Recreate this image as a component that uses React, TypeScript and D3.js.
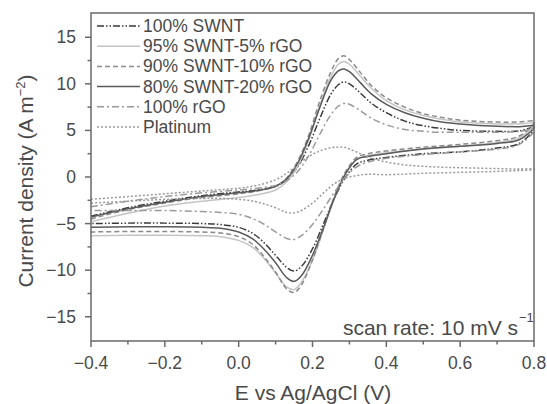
import React from "react";
import * as d3 from "d3";

const W = 547;
const H = 404;

const potentialFwd = [-0.4, -0.3, -0.2, -0.1, 0.0, 0.05, 0.1, 0.13, 0.16, 0.19, 0.22, 0.25, 0.27, 0.285, 0.3, 0.33, 0.36, 0.4, 0.45, 0.5, 0.55, 0.6, 0.7, 0.76, 0.8];
const potentialRev = [0.8, 0.76, 0.7, 0.6, 0.5, 0.4, 0.35, 0.32, 0.29, 0.26, 0.23, 0.2, 0.17, 0.15, 0.13, 0.1, 0.07, 0.04, 0.0, -0.05, -0.1, -0.2, -0.3, -0.4];

const swnt100Fwd = [-4.2, -3.3, -2.6, -2.0, -1.6, -1.4, -1.0, -0.3, 1.1, 3.4, 6.3, 8.9, 9.9, 10.2, 10.0, 9.0, 7.9, 6.9, 6.0, 5.5, 5.2, 5.0, 4.9, 4.95, 5.3];
const swnt100Rev = [5.1, 3.6, 3.1, 2.7, 2.5, 2.1, 1.8, 1.4, 0.0, -2.2, -5.0, -7.7, -9.6, -10.1, -9.7, -8.4, -7.1, -6.1, -5.4, -5.1, -5.0, -4.95, -4.95, -5.0];

const swnt95Fwd = [-4.8, -3.9, -3.1, -2.6, -2.2, -1.9, -1.4, -0.5, 1.2, 4.0, 7.7, 10.8, 12.1, 12.4, 12.1, 10.8, 9.5, 8.2, 7.2, 6.6, 6.2, 5.9, 5.7, 5.7, 5.8];
const swnt95Rev = [5.6, 4.2, 3.7, 3.3, 3.0, 2.6, 2.3, 1.9, 0.4, -2.2, -5.6, -8.9, -11.3, -12.1, -11.8, -10.3, -8.8, -7.6, -6.8, -6.4, -6.3, -6.25, -6.25, -6.3];

const swnt90Fwd = [-4.5, -3.5, -2.8, -2.2, -1.8, -1.5, -1.0, -0.1, 1.7, 4.5, 8.2, 11.3, 12.7, 13.0, 12.6, 11.2, 9.8, 8.5, 7.5, 6.8, 6.4, 6.1, 5.9, 5.9, 6.0];
const swnt90Rev = [5.8, 4.4, 3.9, 3.5, 3.2, 2.8, 2.5, 2.1, 0.6, -2.0, -5.5, -8.9, -11.6, -12.4, -12.0, -10.2, -8.6, -7.3, -6.4, -6.0, -5.9, -5.85, -5.85, -5.9];

const swnt80Fwd = [-4.3, -3.4, -2.7, -2.1, -1.7, -1.45, -1.0, -0.2, 1.5, 4.2, 7.5, 10.4, 11.4, 11.6, 11.3, 10.1, 8.9, 7.8, 6.9, 6.3, 5.9, 5.7, 5.45, 5.4, 5.5];
const swnt80Rev = [5.3, 4.0, 3.6, 3.3, 3.0, 2.5, 2.2, 1.9, 0.4, -2.2, -5.4, -8.4, -10.6, -11.2, -10.8, -9.2, -7.8, -6.7, -5.9, -5.5, -5.4, -5.35, -5.35, -5.4];

const rgoFwd = [-3.2, -2.6, -2.1, -1.7, -1.4, -1.2, -0.9, -0.4, 0.6, 2.3, 4.6, 6.7, 7.6, 7.9, 7.8, 7.1, 6.3, 5.6, 5.1, 4.9, 4.8, 4.8, 4.8, 4.9, 5.1];
const rgoRev = [4.9, 3.5, 3.0, 2.7, 2.4, 2.0, 1.6, 1.1, 0.0, -1.6, -3.4, -5.1, -6.3, -6.7, -6.6, -5.9, -5.1, -4.5, -4.0, -3.8, -3.7, -3.6, -3.6, -3.6];

const ptFwd = [-2.4, -2.1, -1.8, -1.5, -1.2, -0.9, -0.3, 0.4, 1.3, 2.2, 2.8, 3.15, 3.2, 3.2, 3.0, 2.5, 2.0, 1.6, 1.3, 1.15, 1.05, 1.0, 0.9, 0.85, 0.85];
const ptRev = [0.8, 0.7, 0.6, 0.5, 0.4, 0.25, 0.3, 0.15, -0.1, -0.7, -1.7, -2.8, -3.6, -3.85, -3.8, -3.3, -2.9, -2.6, -2.4, -2.3, -2.3, -2.4, -2.6, -2.8];

const seriesNames = ["100% SWNT", "95% SWNT-5% rGO", "90% SWNT-10% rGO", "80% SWNT-20% rGO", "100% rGO", "Platinum"];
const seriesFwd = [swnt100Fwd, swnt95Fwd, swnt90Fwd, swnt80Fwd, rgoFwd, ptFwd];
const seriesRev = [swnt100Rev, swnt95Rev, swnt90Rev, swnt80Rev, rgoRev, ptRev];
const seriesColors = ["#3a3a3a", "#c4c4c4", "#8a8a8a", "#5a5a5a", "#9a9a9a", "#9a9a9a"];
const seriesDash = ["7,2,1.5,2,1.5,2", "none", "5,3", "none", "7,3,2,3", "2,2"];

const xMajor = [-0.4, -0.2, 0.0, 0.2, 0.4, 0.6, 0.8];
const xMinor = [-0.3, -0.1, 0.1, 0.3, 0.5, 0.7];
const yMajor = [-15, -10, -5, 0, 5, 10, 15];
const yMinor = [-12.5, -7.5, -2.5, 2.5, 7.5, 12.5];

const left = 91, right = 534, top = 13, bottom = 341;

export default function App() {
  const x = d3.scaleLinear().domain([-0.4, 0.8]).range([left, right]);
  const y = d3.scaleLinear().domain([-17.6, 17.6]).range([bottom, top]);
  const line = d3
    .line<[number, number]>()
    .x((d) => x(d[0]))
    .y((d) => y(d[1]))
    .curve(d3.curveCatmullRom.alpha(0.5));

  const axisColor = "#6a6a6a";
  const textColor = "#4a4a4a";
  const font = "'Liberation Sans', Arial, sans-serif";
  const fmtX = (v: number) => (v < 0 ? "\u2212" + Math.abs(v).toFixed(1) : v.toFixed(1));
  const fmtY = (v: number) => (v < 0 ? "\u2212" + Math.abs(v) : String(v));

  return (
    <svg width={W} height={H} style={{ position: "absolute", left: 0, top: 0, background: "#fff" }} fontFamily={font}>
      <rect x={0} y={0} width={W} height={H} fill="#fff" />
      {seriesNames.map((name, i) => {
        const pts: [number, number][] = [
          ...potentialFwd.map((e, k) => [e, seriesFwd[i][k]] as [number, number]),
          ...potentialRev.map((e, k) => [e, seriesRev[i][k]] as [number, number]),
        ];
        return (
          <path
            key={name}
            d={line(pts) || ""}
            fill="none"
            stroke={seriesColors[i]}
            strokeWidth={1.5}
            strokeDasharray={seriesDash[i]}
          />
        );
      })}
      <rect x={left} y={top} width={right - left} height={bottom - top} fill="none" stroke={axisColor} strokeWidth={1.5} />
      {xMajor.map((v) => (
        <g key={"xM" + v}>
          <line x1={x(v)} x2={x(v)} y1={bottom} y2={bottom + 6} stroke={axisColor} strokeWidth={1.5} />
          <text x={x(v)} y={bottom + 28} textAnchor="middle" fontSize={17.5} fill={textColor}>
            {fmtX(v)}
          </text>
        </g>
      ))}
      {xMinor.map((v) => (
        <line key={"xm" + v} x1={x(v)} x2={x(v)} y1={bottom} y2={bottom + 3.5} stroke={axisColor} strokeWidth={1.5} />
      ))}
      {yMajor.map((v) => (
        <g key={"yM" + v}>
          <line x1={left - 6} x2={left} y1={y(v)} y2={y(v)} stroke={axisColor} strokeWidth={1.5} />
          <text x={left - 15} y={y(v) + 6} textAnchor="end" fontSize={17.5} fill={textColor}>
            {fmtY(v)}
          </text>
        </g>
      ))}
      {yMinor.map((v) => (
        <line key={"ym" + v} x1={left - 3.5} x2={left} y1={y(v)} y2={y(v)} stroke={axisColor} strokeWidth={1.5} />
      ))}
      {seriesNames.map((name, i) => {
        const by = 32 + i * 20.2;
        return (
          <g key={"lg" + name}>
            <line x1={97} x2={140} y1={by - 6} y2={by - 6} stroke={seriesColors[i]} strokeWidth={1.5} strokeDasharray={seriesDash[i]} />
            <text x={143} y={by} fontSize={17.5} fill={textColor}>
              {name}
            </text>
          </g>
        );
      })}
      <text x={518} y={335} textAnchor="end" fontSize={21} fill={textColor}>
        scan rate: 10 mV s
      </text>
      <text x={519} y={322} fontSize={13} fill={textColor}>
        {"\u22121"}
      </text>
      <text x={313} y={400} textAnchor="middle" fontSize={21} fill={textColor}>
        E vs Ag/AgCl (V)
      </text>
      <text transform={`translate(33,181) rotate(-90)`} textAnchor="middle" fontSize={21} fill={textColor}>
        Current density (A m<tspan dy={-8} fontSize={13}>{"\u22122"}</tspan>
        <tspan dy={8}>)</tspan>
      </text>
    </svg>
  );
}
